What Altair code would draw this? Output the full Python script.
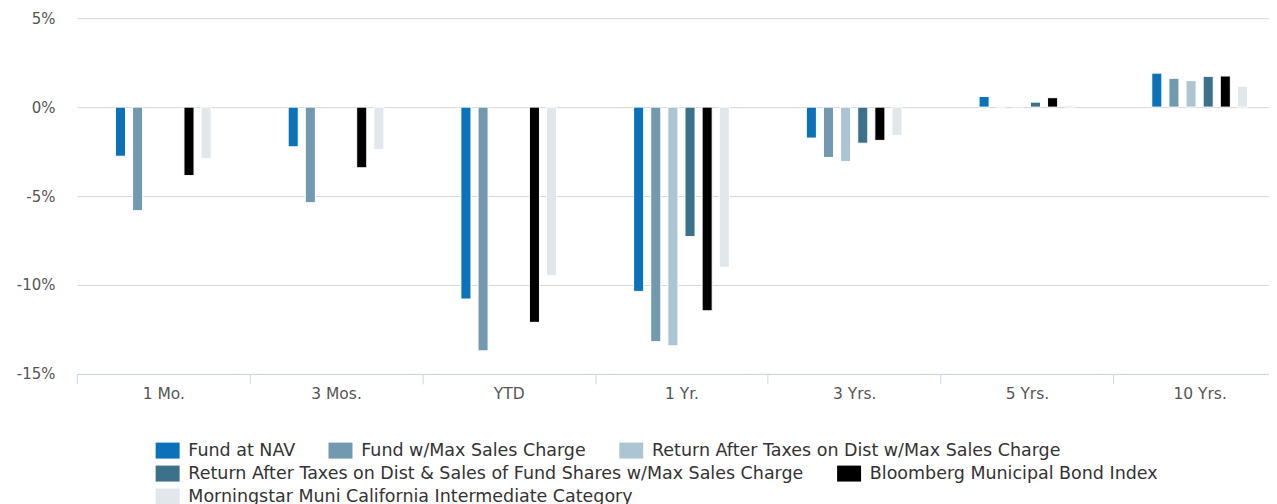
import altair as alt
import pandas as pd

categories = ["1 Mo.", "3 Mos.", "YTD", "1 Yr.", "3 Yrs.", "5 Yrs.", "10 Yrs."]
series = [
    "Fund at NAV",
    "Fund w/Max Sales Charge",
    "Return After Taxes on Dist w/Max Sales Charge",
    "Return After Taxes on Dist & Sales of Fund Shares w/Max Sales Charge",
    "Bloomberg Municipal Bond Index",
    "Morningstar Muni California Intermediate Category",
]
colors = ["#0b72b9", "#7399ae", "#adc5d2", "#3d7189", "#000000", "#e2e7ec"]

fund_nav = [-2.76, -2.23, -10.79, -10.36, -1.74, 0.60, 1.91]
fund_max = [-5.82, -5.37, -13.70, -13.19, -2.83, 0.01, 1.62]
after_tax_dist = [None, None, None, -13.42, -3.06, -0.08, 1.49]
after_tax_sales = [None, None, None, -7.28, -2.03, 0.28, 1.73]
bloomberg = [-3.85, -3.41, -12.10, -11.45, -1.87, 0.53, 1.75]
morningstar = [-2.90, -2.38, -9.48, -9.01, -1.59, 0.10, 1.18]

all_values = [fund_nav, fund_max, after_tax_dist, after_tax_sales, bloomberg, morningstar]

rows = []
for s, vals in zip(series, all_values):
    for c, v in zip(categories, vals):
        if v is not None:
            rows.append({"period": c, "series": s, "value": v})
df = pd.DataFrame(rows)

legend_rows = [series[0:3], series[3:5], series[5:6]]
legend_y = [424, 447, 470]

# spacer slots so each group of bars occupies only the middle of its band
offset_domain = ["_s1", "_s2"] + series + ["_s3", "_s4"]

FONT = "DejaVu Sans"


def color_enc(values, ly):
    return alt.Color(
        "series:N",
        scale=alt.Scale(domain=series, range=colors),
        legend=alt.Legend(
            values=values,
            title=None,
            orient="none",
            legendX=82,
            legendY=ly,
            direction="horizontal",
            columns=len(values),
            symbolType="M-1.5,-1H1.5V1H-1.5Z",
            symbolSize=256,
            symbolStrokeWidth=0,
            labelFont=FONT,
            labelFontSize=17.5,
            labelColor="#333333",
            labelLimit=2000,
            labelOffset=12,
            columnPadding=32,
            gridAlign="none",
        ),
    )


x_enc = alt.X(
    "period:N",
    sort=categories,
    scale=alt.Scale(domain=categories, paddingInner=0, paddingOuter=0),
    axis=alt.Axis(
        title=None,
        labelAngle=0,
        labelFont=FONT,
        labelFontSize=15.5,
        labelColor="#555555",
        labelPadding=3,
        tickBand="extent",
        tickSize=10,
        tickColor="#ccd6eb",
        domainColor="#ccd6eb",
        grid=False,
    ),
)
xoff_enc = alt.XOffset(
    "series:N",
    scale=alt.Scale(domain=offset_domain, paddingInner=0.4118, paddingOuter=0.248),
)
y_enc = alt.Y(
    "value:Q",
    scale=alt.Scale(domain=[-15, 5], nice=False, zero=False),
    axis=alt.Axis(
        title=None,
        values=[-15, -10, -5, 0, 5],
        labelExpr="datum.value + '%'",
        labelFont=FONT,
        labelFontSize=15,
        labelColor="#555555",
        labelPadding=22,
        ticks=False,
        domain=False,
        gridColor="#d6d6d6",
        minExtent=69,
        maxExtent=69,
    ),
)

bars = alt.Chart(df).mark_bar(stroke="white", strokeWidth=1).encode(
    x=x_enc, xOffset=xoff_enc, y=y_enc, color=color_enc(legend_rows[0], legend_y[0])
)
leg2 = alt.Chart(df).transform_filter("datum.value > 1000").mark_bar().encode(
    x=x_enc, xOffset=xoff_enc, y=y_enc, color=color_enc(legend_rows[1], legend_y[1])
)
leg3 = alt.Chart(df).transform_filter("datum.value > 1000").mark_bar().encode(
    x=x_enc, xOffset=xoff_enc, y=y_enc, color=color_enc(legend_rows[2], legend_y[2])
)

chart = (
    alt.layer(bars, leg2, leg3)
    .resolve_scale(color="independent")
    .properties(width=1210, height=356, padding={"left": 0, "top": 3, "right": -18, "bottom": 0})
    .configure_view(stroke=None)
)

chart.save("out.html", embed_options={"renderer": "svg", "actions": False})
